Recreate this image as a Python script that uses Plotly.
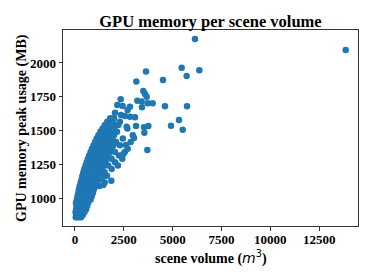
import plotly.graph_objects as go

# Dense band: rows of (memory MB, list of volumes m^3)
band_rows_mem = [858, 875, 895, 915, 940, 965, 990, 1015, 1040, 1065, 1090, 1115, 1140, 1165,
                 1190, 1215, 1240, 1265, 1290, 1315, 1340, 1365, 1390, 1415, 1440, 1465, 1490,
                 1515, 1540, 1565, 1590]
band_rows_vol = [
    [40, 130, 220, 310],
    [70, 180, 290, 400],
    [30, 120, 250, 380, 480],
    [60, 160, 300, 430, 560],
    [80, 200, 340, 470, 620],
    [50, 150, 270, 420, 560, 680],
    [100, 220, 360, 500, 650, 800],
    [130, 260, 410, 560, 720, 860],
    [170, 300, 450, 610, 760, 920],
    [200, 340, 490, 650, 820, 970],
    [240, 390, 540, 700, 880, 1060, 1250],
    [290, 440, 600, 760, 930, 1120, 1520],
    [340, 490, 650, 820, 1000, 1180, 1380],
    [380, 540, 710, 880, 1060, 1250, 1640],
    [430, 600, 770, 950, 1130, 1320, 1520],
    [480, 650, 830, 1010, 1200, 1400, 1880],
    [540, 710, 890, 1080, 1270, 1480, 1700, 2200],
    [600, 770, 950, 1140, 1340, 1550, 2050],
    [660, 840, 1020, 1210, 1410, 1630, 1870, 2420],
    [730, 900, 1090, 1280, 1480, 1700, 2250],
    [800, 980, 1160, 1350, 1560, 1790, 2050, 2550],
    [870, 1050, 1240, 1430, 1640, 1880, 2700],
    [950, 1130, 1320, 1520, 1730, 1970, 2300],
    [1030, 1210, 1400, 1600, 1820, 2100, 2850],
    [1110, 1300, 1490, 1690, 1910, 2450],
    [1200, 1390, 1580, 1780, 2000, 2960],
    [1300, 1480, 1670, 1880, 2150],
    [1410, 1590, 1780, 1990, 2680],
    [1530, 1710, 1900, 2120],
    [1650, 1850, 2300],
    [1800, 2000],
]

# Scattered points
extra_vol = [6144, 13860, 5461, 6366, 5717, 3635, 4506, 3141, 3498, 3584, 3670, 3192, 3413,
             3721, 3977, 3430, 4608, 5735, 2338, 2167, 2440, 2816, 2696, 2048, 2355, 2560,
             2816, 3072, 1963, 5325, 4915, 5515, 3123, 3533, 3755, 3550, 3020, 3704, 2612,
             2475, 1860, 1417, 1451, 2220, 2645]
extra_mem = [2178, 2096, 1965, 1946, 1904, 1937, 1874, 1862, 1793, 1770, 1750, 1721, 1714,
             1701, 1701, 1672, 1679, 1679, 1731, 1689, 1681, 1676, 1652, 1632, 1615, 1607,
             1602, 1598, 1584, 1578, 1536, 1506, 1533, 1524, 1533, 1484, 1444, 1356, 1393,
             1326, 1128, 1163, 1096, 1541, 1528]

x_ticks = [0, 2500, 5000, 7500, 10000, 12500]
x_tick_labels = ["0", "2500", "5000", "7500", "10000", "12500"]
y_ticks = [1000, 1250, 1500, 1750, 2000]
y_tick_labels = ["1000", "1250", "1500", "1750", "2000"]

vols, mems = [], []
for m, row in zip(band_rows_mem, band_rows_vol):
    for v in row:
        vols.append(v)
        mems.append(m)
vols += extra_vol
mems += extra_mem

font_serif = "Liberation Serif"

fig = go.Figure(go.Scatter(
    x=vols, y=mems, mode="markers",
    marker=dict(color="#1f77b4", size=6.5, line=dict(width=0)),
))

axis_common = dict(
    showgrid=False, zeroline=False, showline=True, linecolor="#333333", linewidth=1,
    mirror=True, ticks="outside", ticklen=3.5, tickwidth=1, tickcolor="#333333",
    tickfont=dict(family=font_serif, size=13, color="black"), automargin=False,
)

fig.update_layout(
    width=374, height=280,
    margin=dict(l=55, r=24, t=22, b=62),
    paper_bgcolor="white", plot_bgcolor="white",
    showlegend=False,
    title=dict(text="<b>GPU memory per scene volume</b>", x=0.5414, xanchor="center",
               y=0.954, yanchor="middle", yref="container", automargin=False,
               font=dict(family=font_serif, size=16.5, color="black")),
    xaxis=dict(range=[-614, 14490], tickvals=x_ticks, ticklabelstandoff=-2,
               ticktext=["<b>%s</b>" % t for t in x_tick_labels], **axis_common),
    yaxis=dict(range=[793, 2244], tickvals=y_ticks,
               ticktext=["<b>%s</b>" % t for t in y_tick_labels], **axis_common),
    annotations=[
        dict(text="<b>scene volume (</b><span style='font-family:DejaVu Sans'><i>m</i><sup>3</sup></span><b>)</b>",
             xref="paper", yref="paper", x=0.5, y=0, xanchor="center", yanchor="middle",
             yshift=-31, showarrow=False,
             font=dict(family=font_serif, size=14, color="black")),
        dict(text="<b>GPU memory peak usage (MB)</b>", textangle=-90,
             xref="paper", yref="paper", x=0, y=0.5, xanchor="center", yanchor="middle",
             xshift=-41, showarrow=False,
             font=dict(family=font_serif, size=14, color="black")),
    ],
)

fig.write_html("out.html")
